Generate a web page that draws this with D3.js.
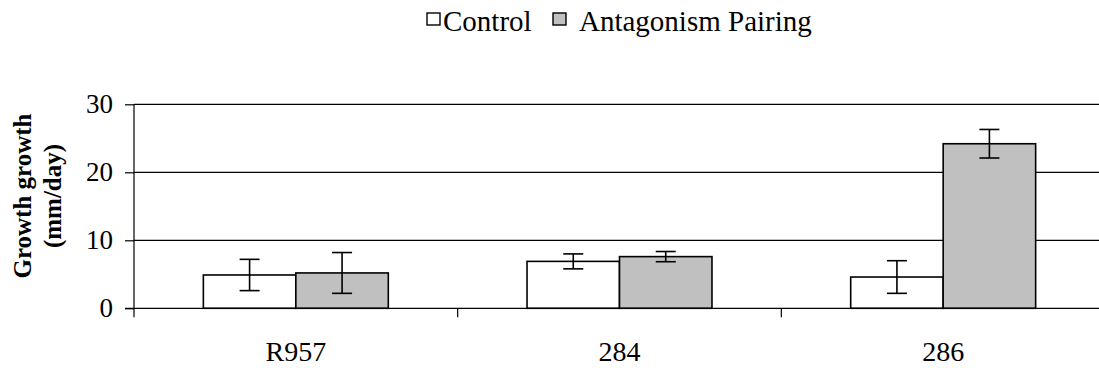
<!DOCTYPE html>
<html>
<head>
<meta charset="utf-8">
<script src="https://cdn.jsdelivr.net/npm/d3@7"></script>
<style>
  html, body { margin: 0; padding: 0; background: #fff; }
  svg { display: block; }
</style>
</head>
<body>
<svg id="chart" width="1099" height="368"></svg>
<script>
// Strains on the category axis
const categories = ["R957", "284", "286"];
// Series names
const seriesNames = ["Control", "Antagonism Pairing"];
// Mean growth (mm/day) per strain
const controlValues = [4.9, 6.9, 4.6];
const antagonismValues = [5.2, 7.6, 24.2];
// Error bar half-widths
const controlErrors = [2.3, 1.1, 2.4];
const antagonismErrors = [3.0, 0.75, 2.1];
// Y axis ticks
const yTicks = [0, 10, 20, 30];

const FONT = "Liberation Serif, DejaVu Serif, serif";
const seriesFill = { "Control": "#ffffff", "Antagonism Pairing": "#c0c0c0" };

const rows = categories.map((c, i) => ({
  category: c,
  bars: [
    { series: seriesNames[0], value: controlValues[i], err: controlErrors[i] },
    { series: seriesNames[1], value: antagonismValues[i], err: antagonismErrors[i] }
  ]
}));

const svg = d3.select("#chart");
const plot = { left: 134, right: 1105, top: 104.3, bottom: 308.3 };

const x0 = d3.scaleBand().domain(categories).range([plot.left, plot.right]).paddingInner(0).paddingOuter(0);
const x1 = d3.scaleBand().domain(seriesNames).range([0, x0.bandwidth()]).paddingInner(0).paddingOuter(0.75);
const y = d3.scaleLinear().domain([0, 30]).range([plot.bottom, plot.top]);

// Horizontal gridlines
svg.append("g")
  .selectAll("line")
  .data(yTicks.filter(t => t > 0))
  .join("line")
  .attr("x1", plot.left).attr("x2", plot.right)
  .attr("y1", d => y(d)).attr("y2", d => y(d))
  .attr("stroke", "#000").attr("stroke-width", 1.2);

// Bars
const groups = svg.append("g")
  .selectAll("g")
  .data(rows)
  .join("g")
  .attr("transform", d => `translate(${x0(d.category)},0)`);

groups.selectAll("rect")
  .data(d => d.bars)
  .join("rect")
  .attr("x", d => x1(d.series))
  .attr("y", d => y(d.value))
  .attr("width", x1.bandwidth())
  .attr("height", d => y(0) - y(d.value))
  .attr("fill", d => seriesFill[d.series])
  .attr("stroke", "#000")
  .attr("stroke-width", 1.6);

// Error bars
const capHalf = 10;
const eb = groups.selectAll("g.err")
  .data(d => d.bars)
  .join("g")
  .attr("class", "err")
  .attr("stroke", "#000")
  .attr("stroke-width", 1.6);
eb.append("line")
  .attr("x1", d => x1(d.series) + x1.bandwidth() / 2)
  .attr("x2", d => x1(d.series) + x1.bandwidth() / 2)
  .attr("y1", d => y(d.value + d.err))
  .attr("y2", d => y(d.value - d.err));
eb.append("line")
  .attr("x1", d => x1(d.series) + x1.bandwidth() / 2 - capHalf)
  .attr("x2", d => x1(d.series) + x1.bandwidth() / 2 + capHalf)
  .attr("y1", d => y(d.value + d.err))
  .attr("y2", d => y(d.value + d.err));
eb.append("line")
  .attr("x1", d => x1(d.series) + x1.bandwidth() / 2 - capHalf)
  .attr("x2", d => x1(d.series) + x1.bandwidth() / 2 + capHalf)
  .attr("y1", d => y(d.value - d.err))
  .attr("y2", d => y(d.value - d.err));

// Y axis
const yAxis = svg.append("g")
  .attr("transform", `translate(${plot.left},0)`)
  .call(d3.axisLeft(y).tickValues(yTicks).tickSize(9).tickPadding(12).tickFormat(d3.format("d")))
  .attr("font-family", FONT)
  .attr("font-size", 27);
yAxis.select(".domain").attr("d", `M0,${plot.top}V${plot.bottom + 9}`).attr("stroke", "#000").attr("stroke-width", 1.2);
yAxis.selectAll(".tick line").attr("stroke", "#000").attr("stroke-width", 1.2);
yAxis.selectAll(".tick text").attr("fill", "#000");

// X axis (category boundaries marked with ticks)
const xAxisG = svg.append("g");
xAxisG.append("line")
  .attr("x1", plot.left - 9).attr("x2", plot.right)
  .attr("y1", y(0)).attr("y2", y(0))
  .attr("stroke", "#000").attr("stroke-width", 1.2);
xAxisG.selectAll("line.cat")
  .data(categories.slice(1))
  .join("line")
  .attr("class", "cat")
  .attr("x1", d => x0(d)).attr("x2", d => x0(d))
  .attr("y1", y(0)).attr("y2", y(0) + 9)
  .attr("stroke", "#000").attr("stroke-width", 1.2);
xAxisG.selectAll("text")
  .data(categories)
  .join("text")
  .attr("x", d => x0(d) + x0.bandwidth() / 2)
  .attr("y", 361)
  .attr("text-anchor", "middle")
  .attr("font-family", FONT)
  .attr("font-size", 28)
  .text(d => d);

// Y axis title
const yTitle = svg.append("text")
  .attr("transform", "translate(0,196) rotate(-90)")
  .attr("text-anchor", "middle")
  .attr("font-family", FONT)
  .attr("font-size", 25)
  .attr("font-weight", "bold");
yTitle.append("tspan").attr("x", 0).attr("y", 31).text("Growth growth");
yTitle.append("tspan").attr("x", 0).attr("y", 61).text("(mm/day)");

// Legend
const legend = svg.append("g");
const legendItems = [
  { name: seriesNames[0], box: 427, label: 443 },
  { name: seriesNames[1], box: 553, label: 579 }
];
legend.selectAll("rect")
  .data(legendItems)
  .join("rect")
  .attr("x", d => d.box).attr("y", 13)
  .attr("width", 13).attr("height", 12)
  .attr("fill", d => seriesFill[d.name])
  .attr("stroke", "#000").attr("stroke-width", 1.4);
legend.selectAll("text")
  .data(legendItems)
  .join("text")
  .attr("x", d => d.label).attr("y", 31)
  .attr("font-family", FONT)
  .attr("font-size", 29)
  .text(d => d.name);
</script>
</body>
</html>
